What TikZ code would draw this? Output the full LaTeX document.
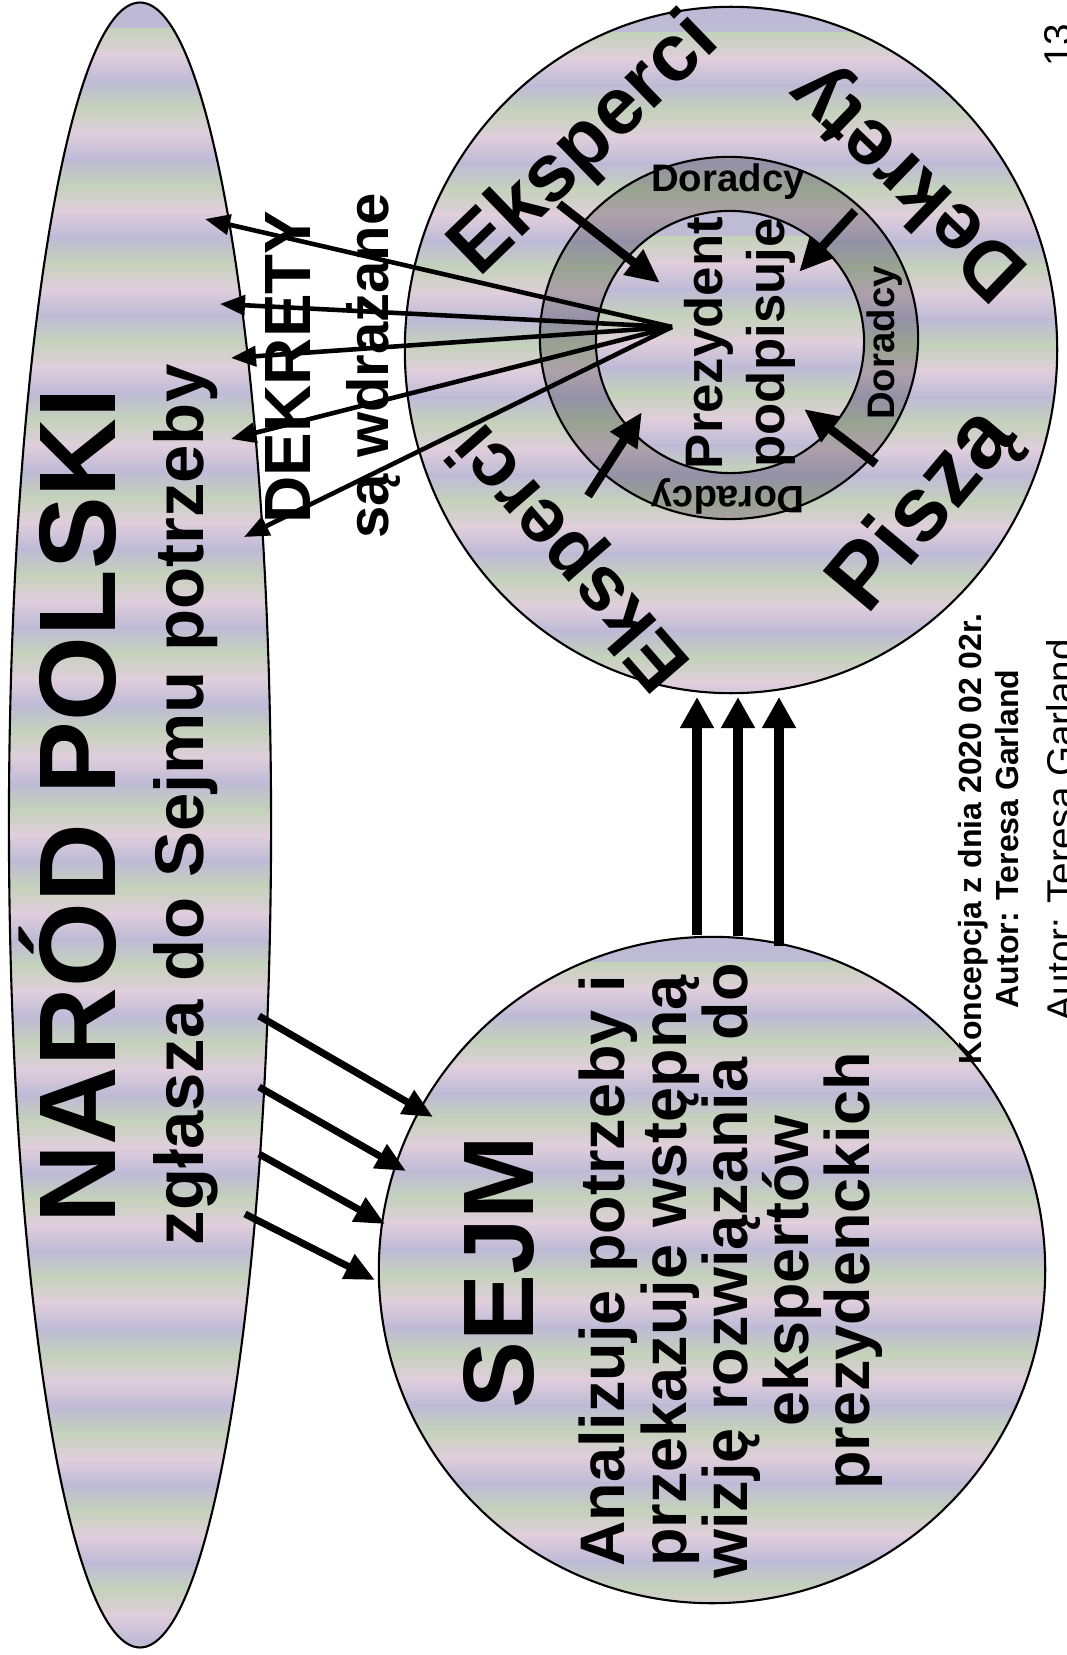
\documentclass[tikz,border=0pt]{standalone}
\usepackage{fontspec}
\setmainfont{Liberation Sans}
\usetikzlibrary{arrows.meta}
\usetikzlibrary{calc}
\usetikzlibrary{shapes.geometric}
\definecolor{band0}{RGB}{190,186,214}
\definecolor{band1}{RGB}{196,210,186}
\definecolor{band2}{RGB}{224,206,220}
\newcommand{\txtsize}[2]{\fontsize{#1pt}{#2pt}\selectfont\bfseries}
\tikzset{blob/.style={ellipse,draw=black,line width=0.6pt,inner sep=0pt}}
\tikzset{band/.style={path picture={
    \foreach \k in {0,...,#1}{
        \pgfmathtruncatemacro{\ca}{mod(\k,3)}
        \pgfmathtruncatemacro{\cb}{mod(\k+1,3)}
        \shade[top color=band\ca,bottom color=band\cb]
            ($(path picture bounding box.north west)+(0,\k*26)$) rectangle
            ($(path picture bounding box.north east)+(0,\k*26+27)$);
    }}}}
\tikzset{vtext/.style={rotate=90,inner sep=0pt,font=\bfseries}}
\tikzset{fan/.style={-{Triangle[length=2.5mm,width=2mm]},line width=1.3pt}}
\tikzset{push/.style={-{Triangle[length=3mm,width=2.6mm]},line width=2pt}}
\tikzset{jab/.style={-{Triangle[length=3.4mm,width=3mm]},line width=2.5pt}}
\tikzset{lift/.style={-{Triangle[length=3.1mm,width=3.2mm]},line width=2.9pt}}

\begin{document}
\begin{tikzpicture}[x=0.01cm,y=-0.01cm]
    \useasboundingbox (0,0) rectangle (1067,1655);

    \node[blob,band=64,minimum width=2.62cm,minimum height=16.44cm] (narod) at (140,825) {};
    \node[blob,band=26,minimum width=6.66cm,minimum height=6.66cm] (sejm) at (712,1270) {};
    \node[blob,band=27,minimum width=6.52cm,minimum height=6.86cm] (outer) at (731,350) {};
    \node[blob,fill=black,fill opacity=.22,minimum width=3.78cm,minimum height=3.62cm] (ring) at (729,338) {};
    \node[blob,band=11,minimum width=2.68cm,minimum height=2.62cm] (core) at (730,342) {};

    \node[vtext,anchor=base,font=\txtsize{31}{31}] (narodt) at (115,806) {NARÓD POLSKI};
    \node[vtext,anchor=base,font=\txtsize{19.6}{20}] (zglt) at (203,805) {zgłasza do Sejmu potrzeby};
    \node[vtext,anchor=base,font=\txtsize{18.6}{19}] (dekt) at (310,367) {DEKRETY};
    \node[vtext,anchor=base,font=\txtsize{16.5}{17}] (wdrt) at (388,366) {są wdrażane};
    \node[vtext,anchor=base,font=\txtsize{28.5}{29}] (sejmt) at (533,1272) {SEJM};
    \node[vtext,align=center,font=\txtsize{17.9}{17.4}] (anat) at (731,1271)
        {Analizuje potrzeby i\\przekazuje wstępną\\wizję rozwiązania do\\ekspertów\\prezydenckich};
    \node[vtext,align=center,font=\txtsize{15}{17.6}] (prezt) at (740,343) {Prezydent\\podpisuje};
    \node[inner sep=0pt,font=\txtsize{10.9}{11}] (dor1) at (728,182) {Doradcy};
    \node[vtext,font=\txtsize{10.9}{11}] (dor2) at (885,343) {Doradcy};
    \node[inner sep=0pt,rotate=180,font=\txtsize{10.9}{11}] (dor3) at (728,496) {Doradcy};
    \node[inner sep=0pt,rotate=44,font=\txtsize{23}{23}] (eks1) at (586,146) {Eksperci};
    \node[inner sep=0pt,rotate=136,font=\txtsize{23}{23}] (dekr) at (910,180) {Dekrety};
    \node[inner sep=0pt,rotate=50,font=\txtsize{26}{26}] (pisza) at (925,512) {Piszą};
    \node[inner sep=0pt,rotate=131,font=\txtsize{22}{22}] (eks2) at (573,555) {Eksperci};
    \node[vtext,align=center,font=\txtsize{9.1}{10.5}] (konc) at (989,839)
        {Koncepcja z dnia 2020 02 02r.\\Autor: Teresa Garland};
    \node[vtext,anchor=base,font=\fontsize{11pt}{11pt}\selectfont] (autor) at (1074,830) {Autor: Teresa Garland};
    \node[vtext,anchor=base,font=\fontsize{11pt}{11pt}\selectfont] (page) at (1071,45) {13};

    \coordinate (src) at (672,327);
    \coordinate (d1) at (205,219);
    \coordinate (d2) at (220,304);
    \coordinate (d3) at (231,358);
    \coordinate (d4) at (231,439);
    \coordinate (d5) at (244,537);
    \draw[fan] (src) -- (d1);
    \draw[fan] (src) -- (d2);
    \draw[fan] (src) -- (d3);
    \draw[fan] (src) -- (d4);
    \draw[fan] (src) -- (d5);

    \coordinate (n1) at (259,1016);
    \coordinate (n2) at (259,1087);
    \coordinate (n3) at (259,1154);
    \coordinate (n4) at (245,1214);
    \coordinate (s1) at (433,1117);
    \coordinate (s2) at (406,1171);
    \coordinate (s3) at (385,1224);
    \coordinate (s4) at (375,1280);
    \draw[push] (n1) -- (s1);
    \draw[push] (n2) -- (s2);
    \draw[push] (n3) -- (s3);
    \draw[push] (n4) -- (s4);

    \coordinate (v1) at (697,935);
    \coordinate (v2) at (738,936);
    \coordinate (v3) at (779,946);
    \coordinate (w1) at (697,697);
    \coordinate (w2) at (738,697);
    \coordinate (w3) at (779,697);
    \draw[lift] (v1) -- (w1);
    \draw[lift] (v2) -- (w2);
    \draw[lift] (v3) -- (w3);

    \coordinate (r1) at (559,204);
    \coordinate (r2) at (855,211);
    \coordinate (r3) at (588,496);
    \coordinate (r4) at (876,464);
    \coordinate (q1) at (660,283);
    \coordinate (q2) at (799,272);
    \coordinate (q3) at (642,412);
    \coordinate (q4) at (804,409);
    \draw[jab] (r1) -- (q1);
    \draw[jab] (r2) -- (q2);
    \draw[jab] (r3) -- (q3);
    \draw[jab] (r4) -- (q4);
\end{tikzpicture}
\end{document}
